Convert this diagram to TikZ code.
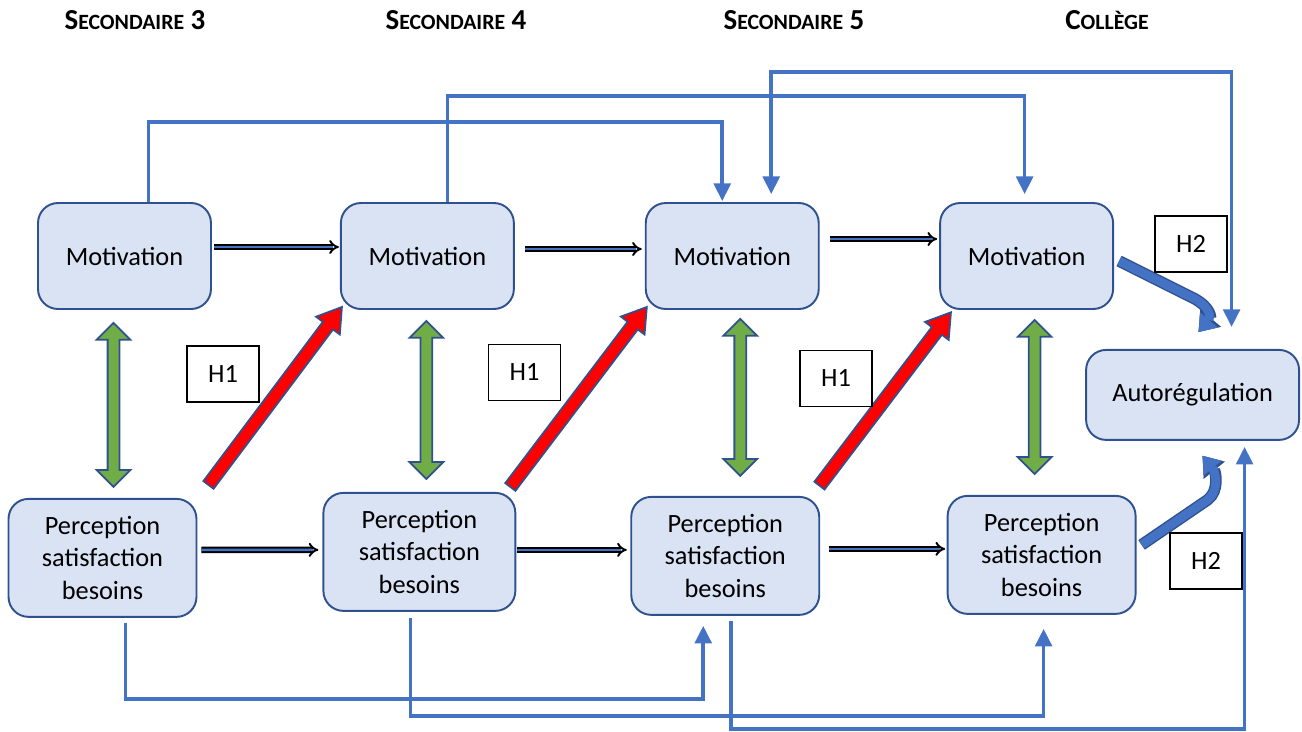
\documentclass[tikz,border=0pt]{standalone}
\usepackage{fontspec}
\setmainfont{Carlito}
\usetikzlibrary{positioning, calc, arrows.meta, shapes.arrows}
\definecolor{boxfill}{HTML}{DAE3F3}
\definecolor{boxline}{HTML}{2F528F}
\definecolor{linkblue}{HTML}{4472C4}
\definecolor{arrowgreen}{HTML}{70AD47}
\tikzset{
	node distance=2.6cm,
	every text node part/.style= {
		align=center
	},
	stage/.style= {
		rectangle,
		rounded corners=0.4cm,
		draw=boxline,
		line width=1.1pt,
		fill=boxfill,
		font=\fontsize{15}{18.5}\selectfont,
		inner sep=2pt
	},
	motiv/.style= {
		stage,
		minimum width=3.46cm,
		minimum height=2.12cm
	},
	percep/.style= {
		stage,
		minimum width=3.76cm,
		minimum height=2.36cm
	},
	header/.style= {
		font=\bfseries
	},
	hyp/.style= {
		rectangle,
		draw=black,
		fill=white,
		line width=0.6pt,
		minimum width=1.44cm,
		minimum height=1.12cm,
		font=\fontsize{15}{18}\selectfont
	},
	flow/.style= {
		draw=black,
		line width=1.1pt,
		double=linkblue,
		double distance=1.5pt,
		-{Implies}
	},
	link/.style= {
		linkblue,
		line width=2pt,
		>={Triangle[length=10pt, width=9.5pt]},
		->
	},
	redarrow/.style= {
		single arrow,
		draw=boxline,
		line width=1pt,
		fill=red,
		inner sep=0.11cm,
		single arrow head extend=0.17cm,
		single arrow tip angle=65
	},
	greenarrow/.style= {
		double arrow,
		draw=boxline,
		line width=1pt,
		fill=arrowgreen,
		inner sep=0.1cm,
		double arrow head extend=0.22cm,
		double arrow tip angle=90
	},
	bendarrow/.style= {
		linkblue,
		line width=5pt,
		-{Triangle[length=9pt, width=13pt, line width=0.1pt]},
		preaction={draw=boxline, line width=6.6pt, -{Triangle[length=10.5pt, width=15.5pt, line width=0.1pt]}}
	}
}
\newcommand{\headtitle}[3]{{\fontsize{16.5}{18}\selectfont #1}{\fontsize{12.4}{14}\selectfont #2}{\fontsize{16.5}{18}\selectfont #3}}
\newcommand{\blockarrow}[4]{%
	\path let \p1=(#3), \p2=(#4),
		\n1={atan2(\y2-\y1,\x2-\x1)}, \n2={veclen(\x2-\x1,\y2-\y1)} in
		node (#1) [#2, rotate=\n1, minimum height=\n2] at ($(\p1)!0.5!(\p2)$) {};}

\begin{document}
\begin{tikzpicture}[x=0.02cm, y=-0.02cm]
	\useasboundingbox (0,0) rectangle (1302,731);
	
	\node (sec3)[header] at (135,20) {\headtitle{S}{ECONDAIRE}{~3}};
	\node (sec4)[header] at (456,20) {\headtitle{S}{ECONDAIRE}{~4}};
	\node (sec5)[header] at (794,20) {\headtitle{S}{ECONDAIRE}{~5}};
	\node (coll)[header] at (1107,20) {\headtitle{C}{OLLÈGE}{}};
	
	\node (M1)[motiv] at (124.5,256) {Motivation};
	\node (M2)[motiv, right=2.56cm of M1] {Motivation};
	\node (M3)[motiv, right=2.6cm of M2] {Motivation};
	\node (M4)[motiv, right=2.39cm of M3] {Motivation};
	
	\node (P1)[percep, below=3.76cm of M1, xshift=-0.44cm] {Perception\\satisfaction\\besoins};
	\node (P2)[percep, minimum width=3.84cm, below=3.64cm of M2, xshift=-0.16cm] {Perception\\satisfaction\\besoins};
	\node (P3)[percep, below=3.72cm of M3, xshift=-0.14cm] {Perception\\satisfaction\\besoins};
	\node (P4)[percep, below=3.7cm of M4, xshift=0.3cm] {Perception\\satisfaction\\besoins};
	
	\node (A)[stage, minimum width=4.26cm, minimum height=1.8cm, below=0.78cm of M4, xshift=3.32cm] {Autorégulation};
	
	\draw[flow] ([xshift=0.04cm, yshift=0.18cm]M1.east) -- ([xshift=-0.02cm, yshift=0.18cm]M2.west);
	\draw[flow] ([xshift=0.2cm, yshift=0.14cm]M2.east) -- ([xshift=-0.06cm, yshift=0.14cm]M3.west);
	\draw[flow] ([xshift=0.2cm, yshift=0.34cm]M3.east) -- ([xshift=-0.04cm, yshift=0.34cm]M4.west);
	\draw[flow] ([xshift=0.08cm, yshift=0.16cm]P1.east) -- ([xshift=-0.08cm, yshift=0.04cm]P2.west);
	\draw[flow] ([xshift=0.02cm, yshift=0.04cm]P2.east) -- ([xshift=-0.07cm, yshift=0.12cm]P3.west);
	\draw[flow] ([xshift=0.17cm, yshift=0.14cm]P3.east) -- ([xshift=-0.03cm, yshift=0.12cm]P4.west);
	
	\draw[link] ($(M1.north)+(24,0)$) -- ++(0,-80) -| ($(M3.north)+(-10,-1)$);
	\draw[link] ($(M2.north)+(20,0)$) -- ++(0,-106) -| ($(M4.north)+(-2,-8)$);
	\draw[link, <->] ($(M3.north)+(39,-8)$) -- ++(0,-122) -| ($(A.north)+(39,-22)$);
	\draw[link] ($(P1.south)+(23,5)$) -- ++(0,76) -| ($(P3.south)+(-22,10)$);
	\draw[link] ($(P2.south)+(-9,6)$) -- ++(0,98) -| ($(P4.south)+(2,14)$);
	\draw[link] ($(P3.south)+(6,5)$) -- ++(0,108) -| ($(A.south)+(52,6)$);
	
	\blockarrow{g1}{greenarrow}{$(M1.south)+(-11,13)$}{$(P1.north)+(11,-11)$}
	\blockarrow{g2}{greenarrow}{$(M2.south)+(-1,11)$}{$(P2.north)+(7,-13)$}
	\blockarrow{g3}{greenarrow}{$(M3.south)+(8,9)$}{$(P3.north)+(15,-20)$}
	\blockarrow{g4}{greenarrow}{$(M4.south)+(8,10)$}{$(P4.north)+(-7,-21)$}
	
	\blockarrow{r1}{redarrow}{$(P1.north east)+(8,-9)$}{$(M2.south west)+(-1,1)$}
	\blockarrow{r2}{redarrow}{$(P2.north east)+(-9,-1)$}{$(M3.south west)+(-1,1)$}
	\blockarrow{r3}{redarrow}{$(P3.north east)+(-4,-6)$}{$(M4.south west)+(9,6)$}
	
	\draw[bendarrow] ($(M4.east)+(5,5)$) -- ++(76,38) .. controls +(16,9) and +(12,-14) .. ($(A.north)+(6,-17)$);
	\draw[bendarrow] ($(P4.east)+(5,-10)$) -- ++(66,-45) .. controls +(12,-9) and +(13,16) .. ($(A.south)+(10,15)$);
	
	\node (H1a)[hyp] at (223,374) {H1};
	\node (H1b)[hyp] at (524.5,372.5) {H1};
	\node (H1c)[hyp] at (836,378.5) {H1};
	\node (H2a)[hyp] at (1191,244) {H2};
	\node (H2b)[hyp] at (1206,561) {H2};
	
\end{tikzpicture}
\end{document}
